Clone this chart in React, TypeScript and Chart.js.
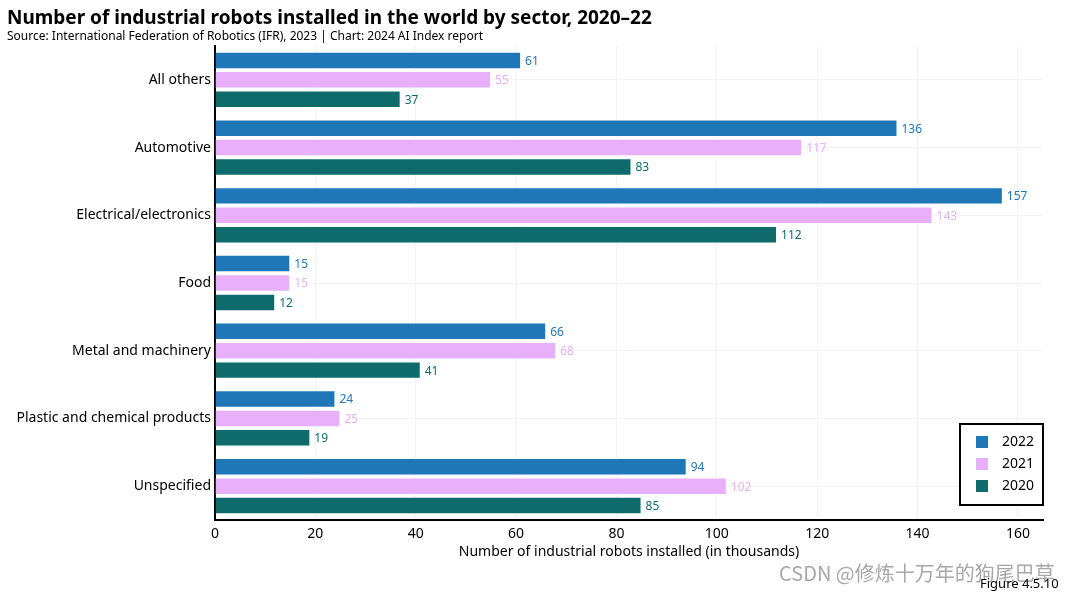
import React, { useEffect, useRef } from "react";
import { Chart, registerables } from "chart.js";

Chart.register(...registerables);

const categories = [
  "All others",
  "Automotive",
  "Electrical/electronics",
  "Food",
  "Metal and machinery",
  "Plastic and chemical products",
  "Unspecified",
];
const values2022 = [61, 136, 157, 15, 66, 24, 94];
const values2021 = [55, 117, 143, 15, 68, 25, 102];
const values2020 = [37, 83, 112, 12, 41, 19, 85];
const seriesLabels = ["2022", "2021", "2020"];
const seriesColors = ["#1f77b8", "#e8b0fb", "#0f6b6b"];
const xTicks = [0, 20, 40, 60, 80, 100, 120, 140, 160];

const FONT = "'Noto Sans', 'Liberation Sans', sans-serif";

const valueLabels = {
  id: "valueLabels",
  afterDatasetsDraw(chart: any) {
    const ctx = chart.ctx;
    ctx.save();
    ctx.font = `12px ${FONT}`;
    ctx.textBaseline = "middle";
    ctx.textAlign = "left";
    chart.data.datasets.forEach((ds: any, i: number) => {
      const meta = chart.getDatasetMeta(i);
      ctx.fillStyle = ds.backgroundColor;
      meta.data.forEach((bar: any, j: number) => {
        ctx.fillText(String(ds.data[j]), bar.x + 4, bar.y + 1);
      });
    });
    ctx.restore();
  },
};

const boxLegend = {
  id: "boxLegend",
  afterDraw(chart: any) {
    const ctx = chart.ctx;
    const area = chart.chartArea;
    const w = 83;
    const h = 81;
    const x = area.right - w;
    const y = area.bottom - 96;
    ctx.save();
    ctx.fillStyle = "#ffffff";
    ctx.fillRect(x, y, w, h);
    ctx.strokeStyle = "#000000";
    ctx.lineWidth = 2;
    ctx.strokeRect(x, y, w, h);
    ctx.font = `14px ${FONT}`;
    ctx.textBaseline = "middle";
    ctx.textAlign = "left";
    chart.data.datasets.forEach((ds: any, i: number) => {
      const cy = y + 18 + i * 22;
      ctx.fillStyle = ds.backgroundColor;
      ctx.fillRect(x + 16, cy - 6, 12, 12);
      ctx.fillStyle = "#000000";
      ctx.fillText(ds.label, x + 42, cy);
    });
    ctx.restore();
  },
};

export default function App() {
  const ref = useRef<HTMLCanvasElement>(null);

  useEffect(() => {
    if (!ref.current) return;
    const seriesValues = [values2022, values2021, values2020];
    const chart = new Chart(ref.current, {
      type: "bar",
      data: {
        labels: categories,
        datasets: seriesLabels.map((label, i) => ({
          label,
          data: seriesValues[i],
          backgroundColor: seriesColors[i],
          borderColor: "rgba(255,255,255,0.6)",
          borderWidth: 1,
          categoryPercentage: 0.86,
          barPercentage: 0.9,
        })),
      },
      options: {
        indexAxis: "y",
        animation: false,
        responsive: false,
        maintainAspectRatio: false,
        layout: { padding: { top: 46, right: 22, left: 0, bottom: 33 } },
        plugins: {
          legend: { display: false },
          tooltip: { enabled: false },
          title: { display: false },
        },
        scales: {
          x: {
            min: 0,
            max: 165,
            afterBuildTicks: (scale: any) => {
              scale.ticks = xTicks.map((v) => ({ value: v }));
            },
            grid: { color: "#f3f3f3", drawTicks: false },
            border: { color: "#000000", width: 2 },
            ticks: {
              color: "#000000",
              font: { family: FONT, size: 14 },
              padding: 6,
            },
            title: {
              display: true,
              text: "Number of industrial robots installed (in thousands)",
              color: "#000000",
              font: { family: FONT, size: 14 },
              padding: { top: 0, bottom: 0 },
            },
            afterFit: (scale: any) => {
              scale.height = 40;
            },
          },
          y: {
            grid: { color: "#f3f3f3", drawTicks: false, offset: false },
            border: { color: "#000000", width: 2 },
            ticks: {
              color: "#000000",
              font: { family: FONT, size: 14 },
              padding: 4,
            },
            afterFit: (scale: any) => {
              scale.width = 215;
            },
          },
        },
      },
      plugins: [valueLabels, boxLegend],
    });
    return () => chart.destroy();
  }, []);

  return (
    <div
      style={{
        position: "fixed",
        left: 0,
        top: 0,
        width: 1065,
        height: 593,
        background: "#ffffff",
        overflow: "hidden",
        fontFamily: FONT,
      }}
    >
      <canvas ref={ref} width={1065} height={593} style={{ position: "absolute", left: 0, top: 0 }} />
      <div
        style={{
          position: "absolute",
          left: 7,
          top: 4,
          fontSize: 19,
          fontWeight: 700,
          color: "#000",
          whiteSpace: "nowrap",
        }}
      >
        Number of industrial robots installed in the world by sector, 2020–22
      </div>
      <div
        style={{
          position: "absolute",
          left: 7,
          top: 27,
          fontSize: 12,
          color: "#000",
          whiteSpace: "nowrap",
        }}
      >
        Source: International Federation of Robotics (IFR), 2023 | Chart: 2024 AI Index report
      </div>
      <div
        style={{
          position: "absolute",
          left: 779,
          top: 563,
          fontSize: 20,
          lineHeight: "20px",
          color: "#a8a8a8",
          whiteSpace: "nowrap",
          fontFamily: "'Noto Sans CJK SC', sans-serif",
        }}
      >
        CSDN @修炼十万年的狗尾巴草
      </div>
      <div
        style={{
          position: "absolute",
          left: 980,
          top: 574,
          fontSize: 13,
          color: "#000",
          whiteSpace: "nowrap",
        }}
      >
        Figure 4.5.10
      </div>
    </div>
  );
}
